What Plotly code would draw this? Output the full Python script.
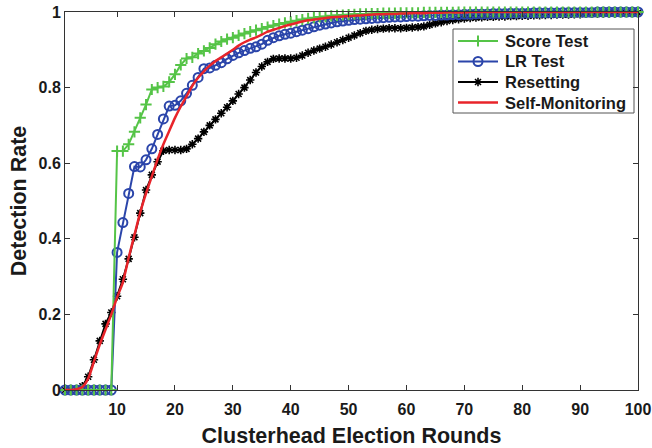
import plotly.graph_objects as go

rounds = list(range(1, 101))

score_test = [0]*9 + [
    0.632, 0.632, 0.650, 0.683, 0.720, 0.755, 0.795, 0.800, 0.803, 0.815,
    0.835, 0.860, 0.877, 0.880, 0.890, 0.897, 0.905, 0.915, 0.922, 0.928,
    0.932, 0.938, 0.943, 0.948, 0.952, 0.956, 0.960, 0.964, 0.968, 0.971,
    0.974, 0.977, 0.980, 0.983, 0.985, 0.987, 0.988, 0.990, 0.991, 0.992,
    0.993, 0.994, 0.995, 0.995, 0.996, 0.996, 0.997, 0.997, 0.997, 0.998,
    0.998, 0.998, 0.998, 0.999, 0.999, 0.999, 0.999, 0.999, 0.999, 1.0,
] + [1.0]*31

lr_test = [0]*9 + [
    0.364, 0.443, 0.520, 0.591, 0.590, 0.609, 0.638, 0.676, 0.717, 0.751,
    0.753, 0.765, 0.785, 0.806, 0.827, 0.850, 0.852, 0.859, 0.866, 0.876,
    0.885, 0.892, 0.898, 0.904, 0.908, 0.915, 0.925, 0.932, 0.937, 0.941,
    0.944, 0.948, 0.952, 0.956, 0.961, 0.965, 0.968, 0.971, 0.974, 0.976,
    0.978, 0.980, 0.981, 0.982, 0.983, 0.984, 0.985, 0.986, 0.987, 0.987,
    0.988, 0.989, 0.989, 0.990, 0.991, 0.991, 0.992, 0.992, 0.993, 0.993,
    0.994, 0.994, 0.995, 0.995, 0.995, 0.996, 0.996, 0.996, 0.997, 0.997,
    0.997, 0.997, 0.998, 0.998, 0.998, 0.998, 0.998, 0.999, 0.999, 0.999,
    0.999, 0.999, 0.999, 1.0, 1.0, 1.0, 1.0, 1.0, 1.0, 1.0, 1.0,
]

resetting = [
    0, 0, 0, 0.010, 0.035, 0.080, 0.130, 0.175, 0.205, 0.248,
    0.293, 0.347, 0.404, 0.468, 0.529, 0.569, 0.604, 0.633, 0.635, 0.635,
    0.635, 0.638, 0.650, 0.665, 0.683, 0.700, 0.716, 0.732, 0.748, 0.765,
    0.783, 0.800, 0.820, 0.840, 0.856, 0.868, 0.876, 0.877, 0.877, 0.877,
    0.879, 0.885, 0.892, 0.898, 0.903, 0.908, 0.914, 0.920, 0.926, 0.932,
    0.938, 0.944, 0.950, 0.953, 0.955, 0.956, 0.957, 0.957, 0.957, 0.958,
    0.959, 0.960, 0.962, 0.966, 0.970, 0.973, 0.976, 0.979, 0.981, 0.983,
    0.984, 0.985, 0.986, 0.987, 0.987, 0.988, 0.988, 0.989, 0.989, 0.990,
    0.990, 0.991, 0.991, 0.992, 0.992, 0.993, 0.993, 0.993, 0.994, 0.994,
    0.995, 0.995, 0.995, 0.996, 0.996, 0.996, 0.997, 0.997, 0.997, 0.998,
]

self_monitoring = [
    0, 0, 0.002, 0.008, 0.030, 0.075, 0.120, 0.160, 0.200, 0.245,
    0.285, 0.350, 0.410, 0.470, 0.520, 0.565, 0.610, 0.650, 0.685, 0.720,
    0.750, 0.777, 0.805, 0.826, 0.843, 0.858, 0.870, 0.880, 0.890, 0.900,
    0.911, 0.920, 0.927, 0.933, 0.940, 0.948, 0.953, 0.958, 0.963, 0.967,
    0.971, 0.975, 0.978, 0.980, 0.982, 0.984, 0.986, 0.987, 0.988, 0.989,
    0.990, 0.991, 0.992, 0.993, 0.994, 0.994, 0.995, 0.995, 0.996, 0.996,
    0.997, 0.997, 0.997, 0.998, 0.998, 0.998, 0.999, 0.999, 0.999, 0.999,
] + [1.0]*30

series_names = ["Score Test", "LR Test", "Resetting", "Self-Monitoring"]
x_ticks = [10, 20, 30, 40, 50, 60, 70, 80, 90, 100]
y_ticks = [0, 0.2, 0.4, 0.6, 0.8, 1]
y_tick_text = ["0", "0.2", "0.4", "0.6", "0.8", "1"]

GREEN = "#55C447"
BLUE = "#2B45AA"
BLACK = "#000000"
RED = "#E8242A"
FONT = "Liberation Sans, Arial, sans-serif"
TXT = "#1a1a1a"

styles = {
    "Score Test": dict(color=GREEN, symbol="cross-thin-open", msize=8, mwidth=2, lwidth=2),
    "LR Test": dict(color=BLUE, symbol="circle-open", msize=9, mwidth=2, lwidth=2),
    "Resetting": dict(color=BLACK, symbol="asterisk-open", msize=7, mwidth=1.6, lwidth=2),
    "Self-Monitoring": dict(color=RED, symbol=None, msize=0, mwidth=0, lwidth=2.5),
}
values = {"Score Test": score_test, "LR Test": lr_test,
          "Resetting": resetting, "Self-Monitoring": self_monitoring}

fig = go.Figure()
for name in ["Resetting", "LR Test", "Score Test", "Self-Monitoring"]:
    st = styles[name]
    if st["symbol"]:
        fig.add_trace(go.Scatter(
            x=rounds, y=values[name], name=name, mode="lines+markers",
            line=dict(color=st["color"], width=st["lwidth"]),
            marker=dict(symbol=st["symbol"], size=st["msize"], color=st["color"],
                        line=dict(color=st["color"], width=st["mwidth"])),
            cliponaxis=False, showlegend=False))
    else:
        fig.add_trace(go.Scatter(
            x=rounds, y=values[name], name=name, mode="lines",
            line=dict(color=st["color"], width=st["lwidth"], shape="spline", smoothing=0.6),
            cliponaxis=False, showlegend=False))

# ---- figure geometry (pixels) ----
W, H = 652, 448
ML, MR, MT, MB = 65, 14, 12, 58
PW, PH = W - ML - MR, H - MT - MB

def px_x(p):
    return (p - ML) / PW

def px_y(p):
    return (H - MB - p) / PH

# ---- hand-built legend (MATLAB style) ----
LEG_BOX = (453, 29, 634, 113)
LEG_ROW0, LEG_DY = 41, 20.5
LEG_L0, LEG_L1, LEG_TX = 458, 498, 503

shapes = [dict(type="rect", xref="paper", yref="paper",
               x0=px_x(LEG_BOX[0]), x1=px_x(LEG_BOX[2]),
               y0=px_y(LEG_BOX[3]), y1=px_y(LEG_BOX[1]),
               fillcolor="white", line=dict(color="#555555", width=1), layer="below")]
annotations = []
for i, name in enumerate(series_names):
    st = styles[name]
    yy = px_y(LEG_ROW0 + i * LEG_DY)
    shapes.append(dict(type="line", xref="paper", yref="paper",
                       x0=px_x(LEG_L0), x1=px_x(LEG_L1), y0=yy, y1=yy,
                       line=dict(color=st["color"], width=st["lwidth"]), layer="above"))
    if st["symbol"]:
        fig.add_trace(go.Scatter(
            x=[px_x((LEG_L0 + LEG_L1) / 2)], y=[yy], xaxis="x2", yaxis="y2",
            mode="markers", showlegend=False, hoverinfo="skip", cliponaxis=False,
            marker=dict(symbol=st["symbol"], size=st["msize"], color=st["color"],
                        line=dict(color=st["color"], width=st["mwidth"]))))
    annotations.append(dict(xref="paper", yref="paper", x=px_x(LEG_TX), y=yy,
                            xanchor="left", yanchor="middle", showarrow=False,
                            text="<b>%s</b>" % name,
                            font=dict(family=FONT, size=16.5, color=TXT)))

axis_common = dict(
    showline=True, linecolor="#333333", linewidth=1, mirror="ticks",
    ticks="inside", ticklen=5, tickcolor="#333333", showgrid=False, zeroline=False,
    automargin=False,
    tickfont=dict(family=FONT, size=16, color=TXT),
)

fig.update_xaxes(range=[1, 100], tickvals=x_ticks,
                 ticktext=["<b>%d</b>" % t for t in x_ticks],
                 ticklabelstandoff=5,
                 title=dict(text="<b>Clusterhead Election Rounds</b>",
                            font=dict(family=FONT, size=21.5, color=TXT), standoff=14),
                 **axis_common)
fig.update_yaxes(range=[0, 1], tickvals=y_ticks, ticktext=["<b>%s</b>" % t for t in y_tick_text],
                 title=dict(text="<b>Detection Rate</b>",
                            font=dict(family=FONT, size=21.5, color=TXT), standoff=6),
                 **axis_common)

fig.update_layout(
    width=W, height=H,
    margin=dict(l=ML, r=MR, t=MT, b=MB, autoexpand=False),
    plot_bgcolor="white", paper_bgcolor="white",
    xaxis2=dict(overlaying="x", range=[0, 1], visible=False),
    yaxis2=dict(overlaying="y", range=[0, 1], visible=False),
    shapes=shapes, annotations=annotations,
    showlegend=False,
)

fig.write_html("out.html")
